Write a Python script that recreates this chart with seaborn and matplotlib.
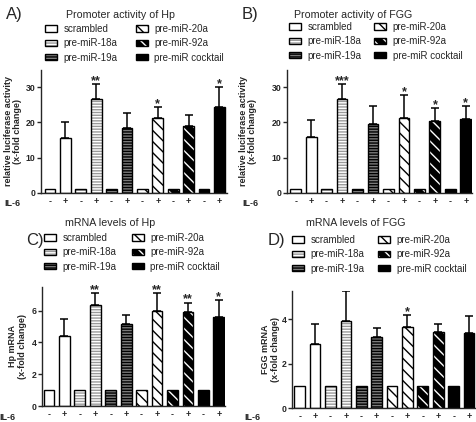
import numpy as np
import pandas as pd
import seaborn as sns
import matplotlib.pyplot as plt
from matplotlib.patches import Patch

sns.set_style('ticks')
plt.rcParams['font.family'] = ['Liberation Sans', 'DejaVu Sans']
plt.rcParams['hatch.linewidth'] = 1.0

groups = ['scrambled', 'pre-miR-18a', 'pre-miR-19a', 'pre-miR-20a', 'pre-miR-92a', 'pre-miR cocktail']
il6 = ['-', '+']

# values: IL-6 minus / plus bars, upper error of plus bars
hp_prom_minus = [1.0, 1.0, 1.0, 1.0, 1.0, 1.0]
hp_prom_plus = [15.5, 26.6, 18.3, 21.4, 18.9, 24.5]
hp_prom_err = [4.6, 4.4, 4.3, 3.0, 3.2, 5.5]
hp_prom_stars = ['', '**', '', '*', '', '*']

fgg_prom_minus = [1.0, 1.0, 1.0, 1.0, 1.0, 1.0]
fgg_prom_plus = [16.0, 26.8, 19.6, 21.4, 20.4, 21.0]
fgg_prom_err = [4.6, 4.2, 5.2, 6.4, 3.6, 3.6]
fgg_prom_stars = ['', '***', '', '*', '*', '*']

hp_mrna_minus = [1.0, 1.0, 1.0, 1.0, 1.0, 1.0]
hp_mrna_plus = [4.43, 6.33, 5.15, 5.95, 5.92, 5.58]
hp_mrna_err = [1.02, 0.75, 0.57, 1.13, 0.58, 1.07]
hp_mrna_stars = ['', '**', '', '**', '**', '*']

fgg_mrna_minus = [1.0, 1.0, 1.0, 1.0, 1.0, 1.0]
fgg_mrna_plus = [2.87, 3.92, 3.18, 3.66, 3.43, 3.35]
fgg_mrna_err = [0.92, 1.35, 0.42, 0.50, 0.33, 0.77]
fgg_mrna_stars = ['', '', '', '*', '', '']

# fill, hatch colour, hatch
styles = [('white', 'white', ''),
          ('white', '#9a9a9a', '------'),
          ('#7a7a7a', 'black', '------'),
          ('white', 'black', '\\\\\\'),
          ('black', 'white', '\\\\\\'),
          ('black', 'black', '')]

W, H = 477, 422
fig = plt.figure(figsize=(W / 100, H / 100), dpi=100)


def px(x, y):
    return x / W, 1 - y / H


def draw_panel(rect, minus, plus, err, stars, ylim, yticks, xlim, ylabel, label_x,
               title, title_xy, letter, letter_xy, leg_xy, colspace, il6_xy):
    ax = fig.add_axes(rect)
    df = pd.DataFrame({
        'group': np.repeat(groups, 2),
        'il6': il6 * 6,
        'value': np.ravel(np.column_stack([minus, plus])),
    })
    df['pos'] = np.arange(len(df))
    sns.barplot(data=df, x='pos', y='value', ax=ax, width=0.7, errorbar=None,
                color='white', saturation=1)
    for patch, g in zip(ax.patches, df['group']):
        fc, hc, h = styles[groups.index(g)]
        patch.set_facecolor(fc)
        patch.set_edgecolor(hc)
        patch.set_hatch(h)
        patch.set_linewidth(0)
    ax.bar(df['pos'], df['value'], width=0.7, fill=False, edgecolor='black', linewidth=1, zorder=3)

    plus_pos = df['pos'][df['il6'] == '+'].values
    ax.errorbar(plus_pos, plus, yerr=[np.zeros(6), err], fmt='none', ecolor='black',
                elinewidth=1.1, capsize=3, capthick=1.1, zorder=2)
    for x, v, e, s in zip(plus_pos, plus, err, stars):
        if s:
            ax.annotate(s, (x, v + e), xytext=(0, 0), textcoords='offset points',
                        ha='center', va='baseline', fontsize=9, fontweight='bold')

    ax.set_xlim(*xlim)
    ax.set_ylim(*ylim)
    ax.set_yticks(yticks)
    ax.set_yticklabels([str(t) for t in yticks], fontweight='bold')
    ax.set_xticks(df['pos'])
    ax.set_xticklabels(df['il6'], fontweight='bold', fontsize=6.5)
    ax.tick_params(axis='y', direction='out', length=3, width=1, labelsize=6.3, pad=1)
    ax.tick_params(axis='x', length=0, pad=3)
    ax.set_xlabel('')
    ax.set_ylabel(ylabel, fontsize=6.5, fontweight='bold', linespacing=1.1)
    ax.yaxis.set_label_coords(label_x, 0.5)
    sns.despine(ax=ax)
    for sp in ax.spines.values():
        sp.set_linewidth(1)

    fig.text(*px(*title_xy), title, ha='center', va='center', fontsize=7.7)
    fig.text(*px(*letter_xy), letter, ha='left', va='center', fontsize=12)
    fig.text(*px(*il6_xy), 'IL-6', ha='left', va='center', fontsize=6.5, fontweight='bold')

    handles = []
    for fc, hc, h in styles:
        handles.append((Patch(facecolor=fc, edgecolor=hc, hatch=h, linewidth=0),
                        Patch(facecolor='none', edgecolor='black', linewidth=1)))
    fig.legend(handles, groups, ncol=2, loc='upper left', bbox_to_anchor=px(*leg_xy),
               frameon=False, fontsize=7, handlelength=1.2, handleheight=0.6,
               handletextpad=0.7, columnspacing=colspace, labelspacing=0.45,
               borderpad=0, borderaxespad=0)
    return ax


draw_panel([41 / W, 1 - 192.7 / H, 186 / W, 122.9 / H],
           hp_prom_minus, hp_prom_plus, hp_prom_err, hp_prom_stars,
           (0, 35), [0, 10, 20, 30], (-0.59, 11.5),
           'relative luciferase activity\n(x-fold change)', -0.1,
           'Promoter activity of Hp', (121, 15), 'A)', (6, 14), (45, 24), 1.9, (4, 203))

draw_panel([287 / W, 1 - 192.7 / H, 185 / W, 122.9 / H],
           fgg_prom_minus, fgg_prom_plus, fgg_prom_err, fgg_prom_stars,
           (0, 35), [0, 10, 20, 30], (-0.56, 11.4),
           'relative luciferase activity\n(x-fold change)', -0.16,
           'Promoter activity of FGG', (353, 15), 'B)', (242, 14), (289, 22), 1.3, (242, 203))

draw_panel([42.5 / W, 1 - 406 / H, 182.5 / W, 119.3 / H],
           hp_mrna_minus, hp_mrna_plus, hp_mrna_err, hp_mrna_stars,
           (0, 7.5), [0, 2, 4, 6], (-0.42, 11.4),
           'Hp mRNA\n(x-fold change)', -0.085,
           'mRNA levels of Hp', (110, 223), 'C)', (26, 241), (44, 233), 1.6, (-1, 418))

draw_panel([292 / W, 1 - 408 / H, 184 / W, 116.8 / H],
           fgg_mrna_minus, fgg_mrna_plus, fgg_mrna_err, fgg_mrna_stars,
           (0, 5.25), [0, 2, 4], (-0.5, 11.45),
           'FGG mRNA\n(x-fold change)', -0.065,
           'mRNA levels of FGG', (356, 223), 'D)', (268, 240), (292, 235), 1.4, (244, 418))

fig.savefig('out.png', dpi=100)
